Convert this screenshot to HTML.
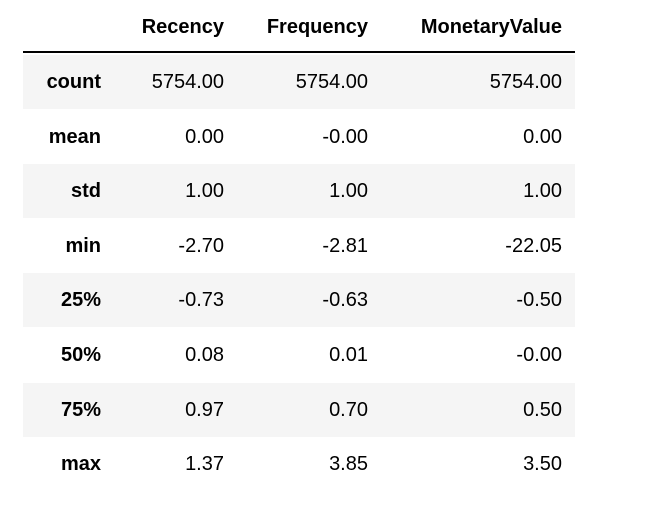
<!DOCTYPE html>
<html><head><meta charset="utf-8"><style>
body{margin:0;width:652px;height:532px;background:#fff;font-family:"Liberation Sans",Arial,sans-serif;position:relative;overflow:hidden}
.c{position:absolute;font-size:20px;color:#000;text-align:right;line-height:20px}
.b{font-weight:bold}
.row{position:absolute;left:23px;width:552px;height:55px}
.s{background:#f5f5f5}
</style></head><body>
<div style="position:absolute;left:23px;top:51px;width:552px;height:2px;background:#000"></div>
<div id="t"></div>
<script>
const cols=["Recency","Frequency","MonetaryValue"];
const idx=["count","mean","std","min","25%","50%","75%","max"];
const recency=["5754.00","0.00","1.00","-2.70","-0.73","0.08","0.97","1.37"];
const frequency=["5754.00","-0.00","1.00","-2.81","-0.63","0.01","0.70","3.85"];
const monetary=["5754.00","0.00","1.00","-22.05","-0.50","-0.00","0.50","3.50"];
const rights=[224,368,562];
const t=document.getElementById('t');
function cell(txt,right,cy,bold,name){const d=document.createElement('div');d.className='c'+(bold?' b':'');d.textContent=txt;d.style.right=(652-right)+'px';d.style.top=(cy-10)+'px';


t.appendChild(d);}
cols.forEach((c,i)=>cell(c,rights[i],27,true,'column-header-'+c.toLowerCase()));
const data=[recency,frequency,monetary];
idx.forEach((r,j)=>{const top=55+j*54.6;
if(j%2==0){const bg=document.createElement('div');bg.className='row s';bg.style.top=top+'px';bg.style.height='54px';


t.appendChild(bg);}
const cy=top+27;
cell(r,101,cy,true,'row-label-'+r);
data.forEach((col,i)=>cell(col[j],rights[i],cy,false,'cell-'+r+'-'+cols[i].toLowerCase()));
});
</script>
</body></html>
